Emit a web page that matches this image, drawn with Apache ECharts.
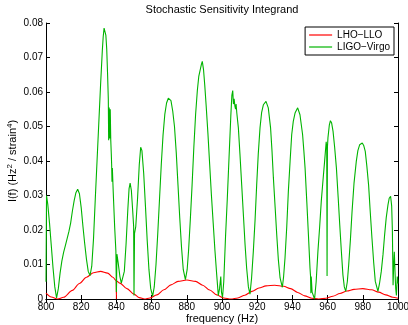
<!DOCTYPE html>
<html>
<head>
<meta charset="utf-8">
<script src="https://cdn.jsdelivr.net/npm/echarts@6/dist/echarts.min.js"></script>
<style>
html,body{margin:0;padding:0;background:#fff;}
#c{width:408px;height:325px;}
</style>
</head>
<body>
<div id="c"></div>
<script>
// ---- data ----
const xTicks = [800, 820, 840, 860, 880, 900, 920, 940, 960, 980, 1000];
const yTicks = [0, 0.01, 0.02, 0.03, 0.04, 0.05, 0.06, 0.07, 0.08];

const lhoFreq = [800, 803, 806.5, 810, 815, 819, 823, 827, 831, 835, 838, 839.9, 840, 840.1, 842, 846, 850, 853, 856, 859, 863, 867, 871, 875, 880, 885, 889, 893, 897, 901, 905, 909, 913, 917, 921, 925, 930, 935, 939, 943, 947, 951, 955, 959, 963, 967, 971, 975, 980, 985, 989, 993, 997, 1000];
const lhoValue = [0.0017, 0.0006, 0.0, 0.0005, 0.0025, 0.0045, 0.0063, 0.0076, 0.0080, 0.0075, 0.0063, 0.0053, 0.0, 0.0052, 0.0046, 0.0030, 0.0014, 0.0004, 0.0, 0.0003, 0.0012, 0.0027, 0.0041, 0.0051, 0.0055, 0.0051, 0.0040, 0.0026, 0.0012, 0.0003, 0.0, 0.0003, 0.0011, 0.0022, 0.0032, 0.0038, 0.0040, 0.0037, 0.0030, 0.0019, 0.0009, 0.0002, 0.0, 0.0002, 0.0008, 0.0016, 0.0023, 0.0028, 0.0030, 0.0027, 0.0020, 0.0012, 0.0005, 0.0002];

const lvFreq = [800.0, 800.3, 801, 802, 803, 804, 805, 806, 807, 808, 809, 810, 811, 812, 813, 814, 815, 816, 817, 818, 819, 820, 821, 822, 823, 824, 825, 826, 827, 828, 829, 830, 831, 832, 832.5, 833, 833.5, 834, 834.5, 835, 835.4, 835.6, 835.9, 836.2, 836.5, 836.8, 837.1, 837.3, 837.5, 837.7, 838.2, 839, 839.7, 840, 840.3, 841, 842, 842.8, 843.5, 844.5, 845.5, 846.5, 847.2, 847.8, 848.5, 849.2, 849.8, 850.0, 850.3, 851, 852, 853, 853.8, 854.5, 855.5, 856.5, 857.5, 858.5, 859.5, 860.6, 861.5, 862.5, 863.5, 864.5, 865.5, 866.5, 867.5, 868.5, 869.5, 870.3, 871, 872, 873, 874, 875, 876, 877, 878, 879.2, 880.2, 881, 882, 883, 884, 885, 886, 886.8, 887.7, 888.3, 888.8, 889.5, 890.2, 891, 892, 893, 894, 895, 896, 897, 897.9, 898.6, 899.3, 899.7, 900.3, 901, 902, 903, 904, 905, 905.6, 906.1, 906.5, 906.9, 907.3, 907.7, 908, 908.4, 909.3, 910.2, 911.2, 912.2, 913.1, 914, 915, 915.9, 916.8, 917.8, 918.8, 919.7, 920.6, 921.6, 922.5, 923.5, 925, 926.3, 927.6, 928.4, 929.2, 930.2, 931.1, 932, 933, 934.3, 935, 935.8, 936.8, 937.7, 938.7, 939.6, 940.5, 941.5, 943, 944.3, 945.8, 946.5, 947.2, 948.2, 949.1, 950, 950.3, 950.5, 950.7, 951.2, 952.6, 953.5, 954.5, 955.5, 956.4, 957.4, 958.3, 959.2, 959.5, 959.7, 959.9, 960.2, 961, 961.6, 962.3, 963.1, 964, 965, 966, 966.9, 967.8, 968.7, 969.5, 970.3, 971.2, 972, 973, 973.9, 975, 976.3, 977.2, 978.2, 979.7, 980.5, 981.4, 982.3, 983.3, 984.2, 985.2, 986.2, 987.1, 988.6, 989.5, 990.5, 991.5, 992.4, 993.3, 994.3, 995, 995.8, 996.4, 996.8, 997.2, 997.5, 997.9, 998.3, 998.7, 999.1, 999.6, 1000];
const lvValue = [0.0050, 0.0300, 0.0275, 0.0220, 0.0155, 0.0090, 0.0035, 0.0003, 0.0030, 0.0075, 0.0110, 0.0135, 0.0155, 0.0175, 0.0195, 0.0220, 0.0255, 0.0285, 0.0308, 0.0318, 0.0305, 0.0265, 0.0210, 0.0160, 0.0115, 0.0080, 0.0068, 0.0095, 0.0175, 0.0290, 0.0400, 0.0510, 0.0620, 0.0720, 0.0760, 0.0785, 0.0785, 0.0765, 0.0725, 0.0650, 0.0580, 0.0460, 0.0555, 0.0465, 0.0550, 0.0460, 0.0420, 0.0390, 0.0340, 0.0380, 0.0310, 0.0210, 0.0140, 0.0020, 0.0130, 0.0105, 0.0065, 0.0046, 0.0050, 0.0080, 0.0160, 0.0260, 0.0320, 0.0336, 0.0315, 0.0260, 0.0210, 0.0010, 0.0190, 0.0210, 0.0290, 0.0390, 0.0440, 0.0430, 0.0365, 0.0270, 0.0170, 0.0085, 0.0030, 0.0008, 0.0035, 0.0100, 0.0190, 0.0290, 0.0390, 0.0475, 0.0535, 0.0568, 0.0582, 0.0583, 0.0575, 0.0545, 0.0500, 0.0425, 0.0330, 0.0235, 0.0150, 0.0085, 0.0056, 0.0085, 0.0140, 0.0230, 0.0330, 0.0440, 0.0535, 0.0605, 0.0645, 0.0650, 0.0680, 0.0689, 0.0665, 0.0620, 0.0560, 0.0480, 0.0390, 0.0300, 0.0220, 0.0140, 0.0070, 0.0010, 0.0030, 0.0065, 0.0020, 0.0005, 0.0050, 0.0180, 0.0290, 0.0410, 0.0530, 0.0590, 0.0604, 0.0565, 0.0580, 0.0560, 0.0550, 0.0565, 0.0540, 0.0496, 0.0420, 0.0330, 0.0240, 0.0158, 0.0090, 0.0035, 0.0014, 0.0060, 0.0138, 0.0230, 0.0330, 0.0420, 0.0496, 0.0540, 0.0563, 0.0573, 0.0554, 0.0496, 0.0430, 0.0351, 0.0265, 0.0186, 0.0115, 0.0061, 0.0034, 0.0065, 0.0119, 0.0210, 0.0312, 0.0400, 0.0476, 0.0515, 0.0539, 0.0554, 0.0534, 0.0476, 0.0430, 0.0380, 0.0280, 0.0186, 0.0090, 0.0067, 0.0017, 0.0065, 0.0020, 0.0000, 0.0050, 0.0138, 0.0210, 0.0283, 0.0345, 0.0399, 0.0456, 0.0440, 0.0067, 0.0440, 0.0467, 0.0505, 0.0517, 0.0510, 0.0486, 0.0440, 0.0380, 0.0295, 0.0215, 0.0140, 0.0070, 0.0035, 0.0022, 0.0050, 0.0100, 0.0175, 0.0254, 0.0335, 0.0399, 0.0430, 0.0447, 0.0452, 0.0445, 0.0428, 0.0385, 0.0330, 0.0255, 0.0177, 0.0105, 0.0051, 0.0022, 0.0045, 0.0080, 0.0130, 0.0186, 0.0235, 0.0273, 0.0292, 0.0298, 0.0270, 0.0200, 0.0040, 0.0090, 0.0137, 0.0080, 0.0030, 0.0010, 0.0065, 0.0045];

const seriesNames = ['LHO\u2212LLO', 'LIGO\u2212Virgo'];
const titleText = 'Stochastic Sensitivity Integrand';
const xName = 'frequency (Hz)';

// ---- chart ----
const FONT = 'Liberation Sans, Arial, Helvetica, sans-serif';
const zip = (a, b) => a.map((v, i) => [v, b[i]]);
const chart = echarts.init(document.getElementById('c'), null, {renderer: 'canvas'});

const baseX = {
  type: 'value', min: xTicks[0], max: xTicks[xTicks.length - 1], interval: xTicks[1] - xTicks[0],
  axisLine: {show: true, lineStyle: {color: '#000', width: 1}},
  axisTick: {show: true, inside: true, length: 4, lineStyle: {color: '#000'}},
  splitLine: {show: false}
};
const baseY = {
  type: 'value', min: yTicks[0], max: yTicks[yTicks.length - 1], interval: yTicks[1] - yTicks[0],
  axisLine: {show: true, lineStyle: {color: '#000', width: 1}},
  axisTick: {show: true, inside: true, length: 4, lineStyle: {color: '#000'}},
  splitLine: {show: false}
};

chart.setOption({
  animation: false,
  backgroundColor: '#fff',
  title: {
    text: titleText, left: 222, top: 4, textAlign: 'center', padding: 0,
    textStyle: {fontFamily: FONT, fontSize: 11, fontWeight: 'normal', color: '#000'}
  },
  legend: {
    orient: 'vertical', right: 14, top: 27, padding: [2, 4, 2, 4], itemGap: 0,
    itemWidth: 23, itemHeight: 1.2, icon: 'rect',
    borderColor: '#000', borderWidth: 1, borderRadius: 0, backgroundColor: '#fff',
    textStyle: {fontFamily: FONT, fontSize: 10, color: '#000', lineHeight: 12},
    data: seriesNames
  },
  grid: {left: 46, right: 10, top: 23, bottom: 26, containLabel: false, outerBoundsMode: 'none'},
  xAxis: [
    Object.assign({}, baseX, {
      position: 'bottom', name: xName, nameLocation: 'middle', nameGap: 14, nameMoveOverlap: false,
      nameTextStyle: {fontFamily: FONT, fontSize: 11, color: '#000'},
      axisLabel: {show: true, margin: 3, fontFamily: FONT, fontSize: 10, color: '#000', formatter: v => String(v)}
    }),
    Object.assign({}, baseX, {position: 'top', axisLabel: {show: false}})
  ],
  yAxis: [
    Object.assign({}, baseY, {
      position: 'left',
      name: '{a|I(f) (Hz}{s|2}{a| / strain}{s|4}{a|)}',
      nameLocation: 'middle', nameGap: 26, nameMoveOverlap: false,
      nameTextStyle: {
        fontFamily: FONT, fontSize: 11, color: '#000',
        rich: {
          a: {fontFamily: FONT, fontSize: 11, color: '#000', lineHeight: 14},
          s: {fontFamily: FONT, fontSize: 8, color: '#000', lineHeight: 14, verticalAlign: 'top'}
        }
      },
      axisLabel: {show: true, margin: 3, fontFamily: FONT, fontSize: 10, color: '#000', formatter: v => String(v)}
    }),
    Object.assign({}, baseY, {position: 'right', axisLabel: {show: false}})
  ],
  series: [
    {
      name: seriesNames[0], type: 'line', xAxisIndex: 0, yAxisIndex: 0,
      data: zip(lhoFreq, lhoValue), smooth: 0.3, smoothMonotone: 'x',
      showSymbol: false, symbol: 'none',
      lineStyle: {color: '#ff0000', width: 1.1}, itemStyle: {color: '#ff0000'}
    },
    {
      name: seriesNames[1], type: 'line', xAxisIndex: 0, yAxisIndex: 0,
      data: zip(lvFreq, lvValue), smooth: false,
      showSymbol: false, symbol: 'none',
      lineStyle: {color: '#00b400', width: 1.1}, itemStyle: {color: '#00b400'}
    }
  ]
});
</script>
</body>
</html>
